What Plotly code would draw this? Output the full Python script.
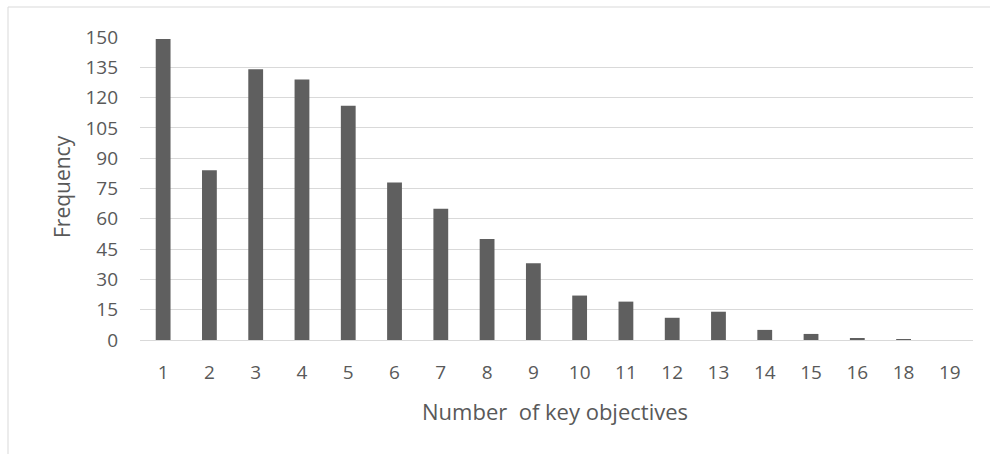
import plotly.graph_objects as go

# Frequency of the number of key objectives
objectives = ["1", "2", "3", "4", "5", "6", "7", "8", "9", "10",
              "11", "12", "13", "14", "15", "16", "18", "19"]
frequency = [149, 84, 134, 129, 116, 78, 65, 50, 38, 22,
             19, 11, 14, 5, 3, 1, 0.3, 0]
y_ticks = list(range(0, 151, 15))

W, H = 990, 454
L, R, T, B = 140, 17, 37, 114
pw, ph = W - L - R, H - T - B

text_color = "#595959"
grid_color = "#d9d9d9"
font_family = "'Open Sans', Lato, sans-serif"

fig = go.Figure(
    go.Bar(
        x=objectives,
        y=frequency,
        marker=dict(color="#5f5f5f", line=dict(width=0)),
        hoverinfo="x+y",
    )
)

fig.update_layout(
    width=W,
    height=H,
    margin=dict(l=L, r=R, t=T, b=B),
    paper_bgcolor="white",
    plot_bgcolor="white",
    bargap=0.68,
    showlegend=False,
    font=dict(family=font_family, size=19, color=text_color),
    xaxis=dict(
        type="category",
        showgrid=False,
        showline=False,
        zeroline=False,
        ticks="",
        ticklabelstandoff=19,
        tickfont=dict(size=19, color=text_color),
    ),
    yaxis=dict(
        range=[0, 150],
        tickvals=y_ticks,
        showgrid=True,
        gridcolor=grid_color,
        gridwidth=1,
        zeroline=True,
        zerolinecolor=grid_color,
        zerolinewidth=1,
        showline=False,
        ticks="",
        ticklabelstandoff=21,
        tickfont=dict(size=19, color=text_color),
    ),
)


def px_x(p):
    return (p - L) / pw


def px_y(p):
    return (H - B - p) / ph


# Chart-area border (runs off the right and bottom edges)
fig.add_shape(
    type="rect", xref="paper", yref="paper",
    x0=px_x(8), x1=px_x(1000), y0=px_y(470), y1=px_y(7),
    line=dict(color=grid_color, width=1), fillcolor="rgba(0,0,0,0)",
    layer="below",
)

# Axis titles
fig.add_annotation(
    text="Number  of key objectives", xref="paper", yref="paper",
    x=px_x(555), y=px_y(411), showarrow=False,
    xanchor="center", yanchor="middle",
    font=dict(size=22, color=text_color, family=font_family),
)
fig.add_annotation(
    text="Frequency", xref="paper", yref="paper",
    x=px_x(62), y=px_y(187), showarrow=False, textangle=-90,
    xanchor="center", yanchor="middle",
    font=dict(size=21, color=text_color, family=font_family),
)

fig.write_html("out.html")
